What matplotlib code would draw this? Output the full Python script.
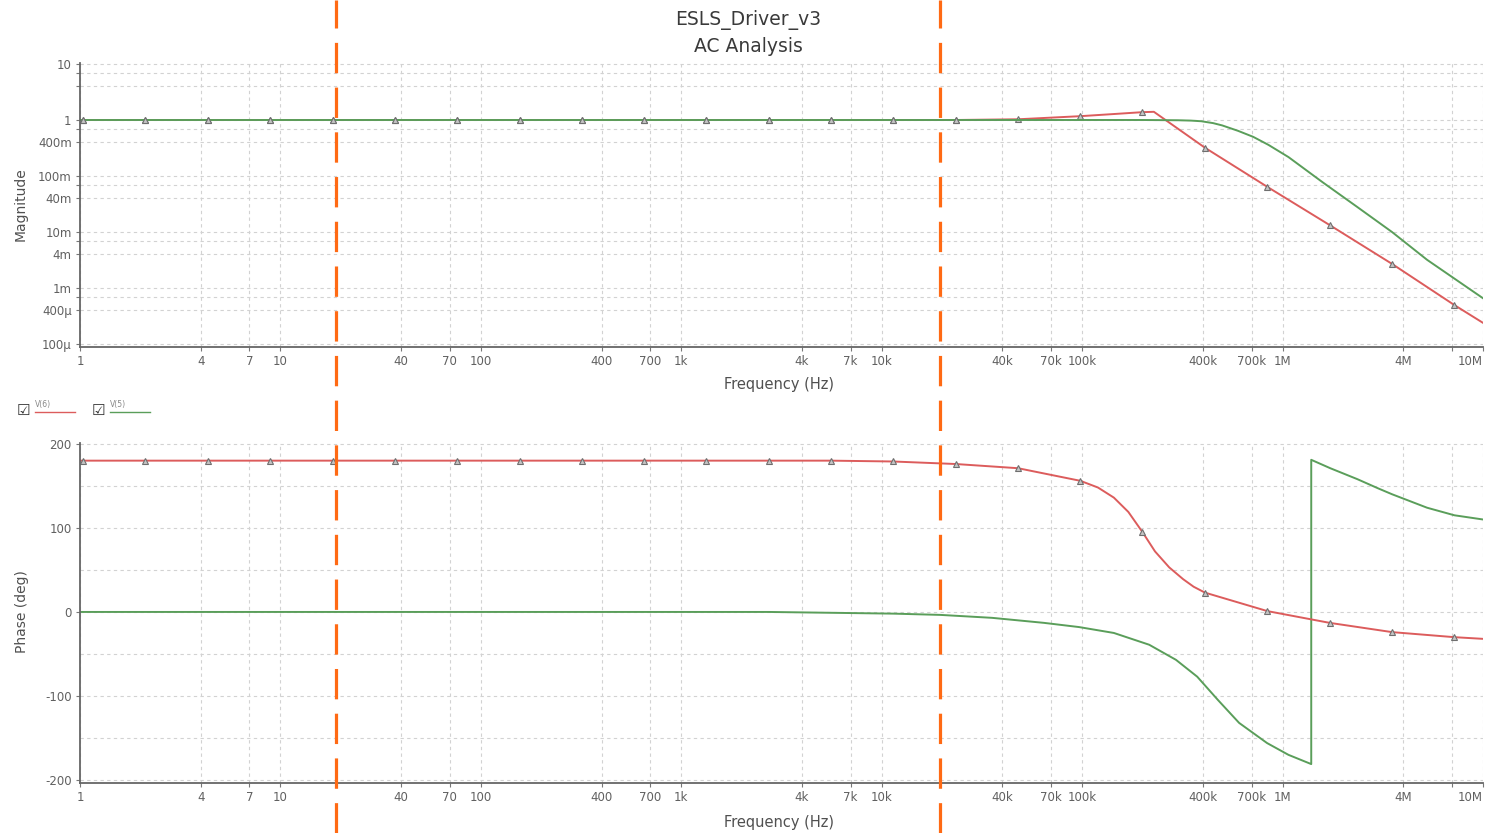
import numpy as np
import matplotlib.pyplot as plt
from matplotlib import transforms
from matplotlib.lines import Line2D

plt.rcParams["axes.unicode_minus"] = False

# -------------------------------------------------
# Data
# -------------------------------------------------
# frequencies where the simulator drew its little triangle markers
marker_f = [1.03, 2.12, 4.34, 8.87, 18.2, 37.2, 76.0, 156.0, 318.0, 652.0,
            1.33e3, 2.73e3, 5.59e3, 11.4e3, 23.4e3, 47.9e3, 98.0e3, 200e3,
            410e3, 840e3, 1.72e6, 3.52e6, 7.19e6]

# magnitude, red trace (V6)
red_mag_f = [1.0, 1.03, 2.12, 4.34, 8.87, 18.2, 37.2, 76.0, 156.0, 318.0, 652.0,
             1.33e3, 2.73e3, 5.59e3, 11.4e3, 23.4e3, 47.9e3, 98.0e3, 150e3, 200e3,
             228e3, 410e3, 840e3, 1.72e6, 3.52e6, 7.19e6, 10e6]
red_mag = [1.0] * 16 + [1.03, 1.17, 1.29, 1.38, 1.40, 0.32, 0.064, 0.0133,
                        0.0027, 5.0e-4, 2.4e-4]

# magnitude, green trace (V5)
green_mag_f = [1.0, 1.03, 2.12, 4.34, 8.87, 18.2, 37.2, 76.0, 156.0, 318.0, 652.0,
               1.33e3, 2.73e3, 5.59e3, 11.4e3, 23.4e3, 47.9e3, 98.0e3, 200e3, 300e3,
               350e3, 393e3, 450e3, 500e3, 600e3, 714e3, 850e3, 1.07e6, 1.58e6,
               2.36e6, 3.52e6, 5.26e6, 10e6]
green_mag = [1.0] * 16 + [1.0, 1.0, 1.0, 0.99, 0.975, 0.95, 0.88, 0.80, 0.64,
                          0.50, 0.36, 0.218, 0.078, 0.028, 0.010, 0.0032, 6.6e-4]

# phase, red trace
red_ph_f = [1.0, 1.03, 2.12, 4.34, 8.87, 18.2, 37.2, 76.0, 156.0, 318.0, 652.0,
            1.33e3, 2.73e3, 5.59e3, 11.4e3, 23.4e3, 47.9e3, 98.0e3, 120e3, 144e3,
            170e3, 200e3, 231e3, 272e3, 319e3, 360e3, 410e3, 840e3, 1.72e6,
            3.52e6, 7.19e6, 10e6]
red_ph = [180] * 14 + [179, 176, 171, 156, 148, 136, 119, 95, 72, 53, 39, 30,
                       23, 1, -13, -24, -30, -32]

# phase, green trace (wraps at -180)
green_ph_f = [1.0, 2.73e3, 5.59e3, 11.4e3, 19.6e3, 35.5e3, 64.6e3, 96.6e3, 144e3,
              216e3, 294e3, 375e3, 477e3, 607e3, 837e3, 1.07e6, 1.39e6, 1.39e6,
              1.73e6, 2.36e6, 3.0e6, 3.52e6, 5.26e6, 7.2e6, 10e6]
green_ph = [0, 0, -1, -2, -3.5, -7, -13, -18, -25, -39, -57, -77, -105, -132,
            -156, -170, -181, 181, 171, 158, 147, 140, 124, 115, 110]

# audio band edges marked with the orange dashed lines
band_edges = [19.0, 19.5e3]

x_ticks = [1, 4, 7, 10, 40, 70, 100, 400, 700, 1e3, 4e3, 7e3, 1e4, 4e4, 7e4,
           1e5, 4e5, 7e5, 1e6, 4e6, 7e6, 1e7]
x_labels = ["1", "4", "7", "10", "40", "70", "100", "400", "700", "1k", "4k",
            "7k", "10k", "40k", "70k", "100k", "400k", "700k", "1M", "4M", "",
            "10M"]
mag_ticks = [1e-4, 4e-4, 7e-4, 1e-3, 4e-3, 7e-3, 1e-2, 4e-2, 7e-2, 0.1, 0.4,
             0.7, 1, 4, 7, 10]
mag_labels = ["100µ", "400µ", "", "1m", "4m", "", "10m", "40m", "", "100m",
              "400m", "", "1", "", "", "10"]
ph_ticks = [-200, -100, 0, 100, 200]
ph_minor = [-150, -50, 50, 150]

RED = "#dc5c5c"
GREEN = "#5a9e5a"
W, H = 1485, 833


def px(x, y):
    return x / W, 1 - y / H


def style_axis(ax):
    ax.set_xscale("log")
    ax.set_xlim(1, 1e7)
    ax.set_xticks(x_ticks)
    ax.set_xticklabels(x_labels)
    ax.get_xticklabels()[-1].set_horizontalalignment("right")
    ax.xaxis.set_minor_locator(plt.NullLocator())
    for s in ["top", "right"]:
        ax.spines[s].set_visible(False)
    for s in ["left", "bottom"]:
        ax.spines[s].set_color("#666666")
        ax.spines[s].set_linewidth(1.3)
    ax.tick_params(labelsize=8.5, labelcolor="#606060", color="#777777",
                   length=3, pad=3)
    ax.grid(True, which="both", color="#d2d2d2", lw=0.8, ls=(0, (3, 3)))
    ax.set_axisbelow(True)


fig = plt.figure(figsize=(W / 100, H / 100), dpi=100)
ax_mag = fig.add_axes([80 / W, 1 - 347 / H, 1403 / W, 284 / H])
ax_ph = fig.add_axes([80 / W, 1 - 783 / H, 1403 / W, 340 / H])

mk = dict(marker="^", markersize=5, markerfacecolor="#c4c4c4",
          markeredgecolor="#6f6f6f", markeredgewidth=0.8)

# -------------------------------------------------
# Magnitude
# -------------------------------------------------
rf = np.array(red_mag_f)
gf = np.array(green_mag_f)
ax_mag.plot(rf, red_mag, color=RED, lw=1.4, markevery=list(np.isin(rf, marker_f)), **mk)
ax_mag.plot(gf, green_mag, color=GREEN, lw=1.4,
            markevery=list(np.isin(gf, marker_f) & (gf < 3e4)), **mk)
style_axis(ax_mag)
ax_mag.set_yscale("log")
ax_mag.set_ylim(8.9e-5, 10.4)
ax_mag.set_yticks(mag_ticks)
ax_mag.set_yticklabels(mag_labels)
ax_mag.yaxis.set_minor_locator(plt.NullLocator())

# -------------------------------------------------
# Phase
# -------------------------------------------------
pf = np.array(red_ph_f)
ax_ph.plot(green_ph_f, green_ph, color=GREEN, lw=1.4)
ax_ph.plot(pf, red_ph, color=RED, lw=1.4, markevery=list(np.isin(pf, marker_f)), **mk)
style_axis(ax_ph)
ax_ph.set_ylim(-203.5, 201)
ax_ph.set_yticks(ph_ticks)
ax_ph.set_yticks(ph_minor, minor=True)
ax_ph.tick_params(axis="y", which="minor", length=0)

# -------------------------------------------------
# Texts
# -------------------------------------------------
tc = "#3a3a3a"
fig.text(*px(748, 20), "ESLS_Driver_v3", ha="center", va="center", fontsize=13.5, color=tc)
fig.text(*px(748, 46), "AC Analysis", ha="center", va="center", fontsize=13.5, color=tc)
fig.text(*px(779, 384), "Frequency (Hz)", ha="center", va="center", fontsize=10.5, color="#505050")
fig.text(*px(779, 822), "Frequency (Hz)", ha="center", va="center", fontsize=10.5, color="#505050")
fig.text(*px(21, 204), "Magnitude", ha="center", va="center", rotation=90, fontsize=10, color="#505050")
fig.text(*px(22, 612), "Phase (deg)", ha="center", va="center", rotation=90, fontsize=10, color="#505050")

# checkbox legend
for x0, name, col in [(15, "V(6)", RED), (90, "V(5)", GREEN)]:
    fig.text(*px(x0 + 8, 410), "\u2611", ha="center", va="center", fontsize=11, color="#333333")
    fig.text(*px(x0 + 20, 404), name, ha="left", va="center", fontsize=5.5, color="#888888")
    fig.add_artist(Line2D([(x0 + 20) / W, (x0 + 60) / W], [1 - 412 / H] * 2,
                          color=col, lw=1.0, transform=fig.transFigure))

# orange dashed band markers across the whole figure, drawn above both axes
trans = transforms.blended_transform_factory(ax_mag.transData, fig.transFigure)
for f in band_edges:
    fig.add_artist(Line2D([f, f], [0, 1], transform=trans, color="#ff6a14",
                          lw=2.3, dashes=(9.5, 4.5), zorder=10))

fig.savefig("out.png", dpi=100, facecolor="white")
